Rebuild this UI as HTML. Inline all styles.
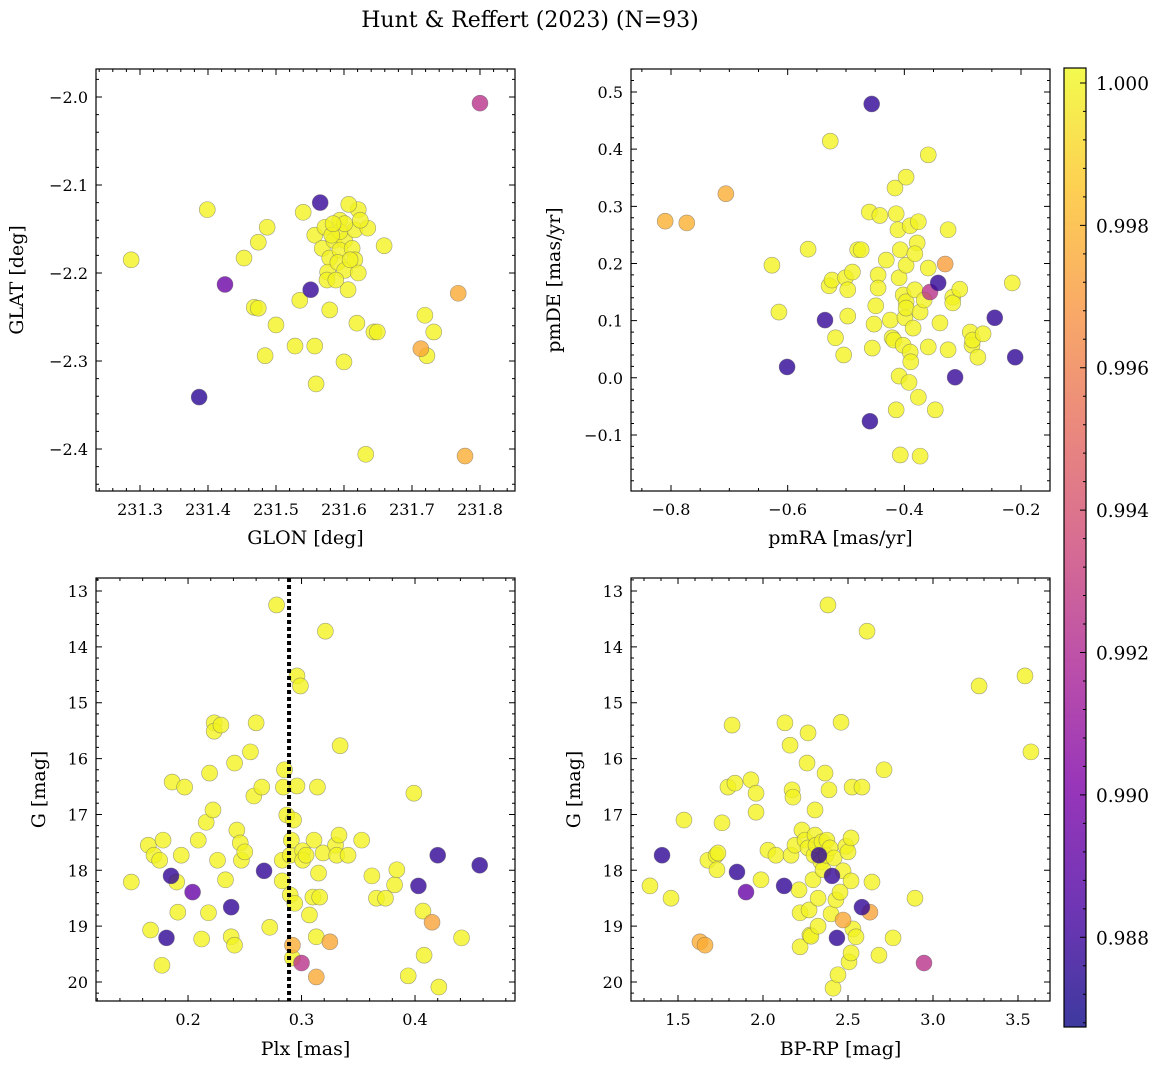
<!DOCTYPE html>
<html><head><meta charset="utf-8"><style>
html,body{margin:0;padding:0;background:#fff;}
svg text{font-family:"DejaVu Serif","Liberation Serif",serif;fill:#000;}
</style></head><body>
<svg id="fig" width="1161" height="1068" viewBox="0 0 1161 1068" xmlns="http://www.w3.org/2000/svg">
<text x="530" y="27" font-size="22" text-anchor="middle">Hunt &amp; Reffert (2023) (N=93)</text>
</svg>
<script>
// Panel 1: GLON vs GLAT
const p1x=[231.287,231.399,231.425,231.387,231.453,231.474,231.487,231.468,231.474,231.500,231.484,231.528,231.535,231.540,231.565,231.551,231.557,231.559,231.557,231.572,231.568,231.579,231.585,231.576,231.575,231.579,231.594,231.601,231.594,231.591,231.601,231.606,231.600,231.616,231.612,231.616,231.621,231.594,231.582,231.621,231.635,231.619,231.632,231.644,231.649,231.659,231.607,231.719,231.732,231.722,231.713,231.768,231.778,231.800,231.624,231.601,231.584,231.588,231.609];
const p1y=[-2.185,-2.128,-2.213,-2.341,-2.183,-2.165,-2.148,-2.239,-2.240,-2.259,-2.294,-2.283,-2.231,-2.131,-2.120,-2.219,-2.283,-2.326,-2.157,-2.148,-2.172,-2.183,-2.163,-2.199,-2.208,-2.242,-2.140,-2.163,-2.174,-2.188,-2.197,-2.219,-2.301,-2.151,-2.172,-2.185,-2.200,-2.153,-2.157,-2.128,-2.149,-2.257,-2.406,-2.267,-2.267,-2.169,-2.122,-2.248,-2.267,-2.294,-2.286,-2.223,-2.408,-2.007,-2.140,-2.144,-2.144,-2.208,-2.185];
const p1p=[1,1,0.9895,0.9875,1,1,1,1,1,1, 1,1,1,1,0.9878,0.9878,1,1,1,1, 1,1,1,1,1,1,1,1,1,1, 1,1,1,1,1,1,1,1,1,1, 1,1,1,1,1,1,1,1,1,1, 0.9975,0.9976,0.9977,0.9925,1,1,1,1,1];
// Panel 2: pmRA vs pmDE
const p2x=[-0.810,-0.773,-0.706,-0.627,-0.615,-0.601,-0.565,-0.536,-0.527,-0.529,-0.524,-0.518,-0.504,-0.501,-0.497,-0.497,-0.489,-0.480,-0.474,-0.460,-0.456,-0.459,-0.455,-0.452,-0.445,-0.445,-0.449,-0.442,-0.431,-0.424,-0.421,-0.416,-0.414,-0.414,-0.418,-0.409,-0.407,-0.411,-0.407,-0.402,-0.399,-0.409,-0.397,-0.397,-0.397,-0.397,-0.402,-0.392,-0.390,-0.390,-0.389,-0.382,-0.385,-0.376,-0.378,-0.382,-0.376,-0.373,-0.373,-0.366,-0.359,-0.359,-0.359,-0.356,-0.347,-0.342,-0.339,-0.330,-0.325,-0.325,-0.317,-0.317,-0.313,-0.305,-0.287,-0.284,-0.283,-0.274,-0.265,-0.245,-0.215,-0.210];
const p2y=[0.274,0.271,0.322,0.197,0.115,0.019,0.225,0.101,0.414,0.161,0.171,0.070,0.040,0.175,0.154,0.108,0.185,0.224,0.224,0.290,0.479,-0.076,0.052,0.094,0.180,0.157,0.126,0.284,0.206,0.101,0.070,0.332,0.287,-0.056,0.066,0.175,-0.135,0.259,0.224,0.145,0.105,0.003,0.351,0.197,0.133,0.122,0.057,-0.008,0.266,0.045,0.028,0.154,0.087,0.273,0.236,0.217,-0.034,-0.137,0.115,0.136,0.390,0.192,0.054,0.150,-0.056,0.166,0.096,0.199,0.259,0.049,0.141,0.131,0.001,0.155,0.080,0.057,0.066,0.036,0.077,0.105,0.166,0.036];
const p2p=[0.9978,0.9978,0.9977,1,1,0.9876,1,0.9878,1,1, 1,1,1,1,1,1,1,1,1,1, 0.9877,0.9876,1,1,1,1,1,1,1,1, 1,1,1,1,1,1,1,1,1,1, 1,1,1,1,1,1,1,1,1,1, 1,1,1,1,1,1,1,1,1,1, 1,1,1,0.9925,1,0.9877,1,0.9972,1,1, 1,1,0.9878,1,1,1,1,1,1,0.9877, 1,0.9876];
// Panel 3: Plx vs G
const p3x=[0.150,0.165,0.167,0.170,0.175,0.177,0.178,0.181,0.185,0.186,0.190,0.191,0.194,0.197,0.204,0.209,0.212,0.216,0.218,0.219,0.222,0.223,0.223,0.226,0.229,0.233,0.238,0.238,0.241,0.241,0.243,0.246,0.247,0.250,0.255,0.258,0.260,0.265,0.267,0.272,0.278,0.283,0.283,0.284,0.285,0.287,0.290,0.290,0.291,0.292,0.292,0.293,0.294,0.296,0.299,0.296,0.300,0.301,0.301,0.304,0.307,0.310,0.311,0.313,0.313,0.314,0.315,0.316,0.319,0.321,0.325,0.330,0.331,0.333,0.334,0.341,0.353,0.362,0.366,0.374,0.382,0.384,0.394,0.399,0.403,0.407,0.408,0.415,0.420,0.421,0.441,0.457];
const p3y=[18.21,17.55,19.07,17.73,17.82,19.70,17.46,19.21,18.10,16.42,18.21,18.75,17.73,16.51,18.39,17.46,19.23,17.14,18.76,16.26,16.92,15.36,15.51,17.82,15.40,18.17,18.66,19.19,19.34,16.08,17.28,17.51,17.82,17.67,15.88,16.67,15.36,16.51,18.01,19.02,13.25,17.82,18.19,16.51,16.20,17.01,18.44,17.73,17.46,19.34,19.57,17.10,18.59,14.52,14.70,16.49,19.66,17.65,17.82,17.73,18.80,18.48,17.46,19.91,19.19,16.51,18.05,18.48,17.69,13.72,19.28,17.55,17.73,17.37,15.77,17.73,17.46,18.10,18.50,18.50,18.26,17.99,19.89,16.62,18.28,18.73,19.52,18.93,17.73,20.09,19.21,17.91];
const p3p=[1,1,1,1,1,1,1,0.9876,0.9877,1, 1,1,1,1,0.9893,1,1,1,1,1, 1,1,1,1,1,1,0.9877,1,1,1, 1,1,1,1,1,1,1,1,0.9877,1, 1,1,1,1,1,1,1,1,1,0.9977, 1,1,1,1,1,1,0.9925,1,1,1, 1,1,1,0.9976,1,1,1,1,1,1, 0.9975,1,1,1,1,1,1,1,1,1, 1,1,1,1,0.9878,1,1,0.9973,0.9877,1, 1,0.9876];
const plxRef=[0.289];
// Panel 4: BP-RP vs G
const p4x=[1.335,1.459,1.406,1.535,1.629,1.659,1.676,1.724,1.729,1.735,1.759,1.794,1.818,1.835,1.847,1.900,1.929,1.959,1.959,1.988,2.029,2.076,2.124,2.129,2.159,2.165,2.171,2.176,2.188,2.212,2.218,2.218,2.229,2.247,2.259,2.265,2.265,2.271,2.276,2.282,2.294,2.300,2.306,2.306,2.312,2.324,2.324,2.329,2.341,2.347,2.353,2.365,2.371,2.376,2.382,2.388,2.394,2.400,2.406,2.412,2.418,2.429,2.435,2.441,2.453,2.459,2.471,2.471,2.488,2.500,2.506,2.518,2.518,2.518,2.524,2.529,2.547,2.582,2.582,2.612,2.629,2.641,2.682,2.712,2.765,2.894,2.947,3.271,3.541,3.576];
const p4y=[18.28,18.50,17.73,17.10,19.28,19.34,17.82,17.73,17.99,17.69,17.15,16.51,15.40,16.44,18.03,18.39,16.38,16.62,16.96,18.17,17.64,17.73,18.28,15.36,15.76,17.73,16.56,16.69,17.55,18.35,18.76,19.37,17.28,17.46,16.08,15.54,17.60,18.71,19.16,19.18,18.17,17.73,16.92,17.37,17.55,18.50,19.00,17.73,17.85,17.49,17.99,16.26,17.73,17.46,13.25,16.56,17.60,18.78,18.10,20.11,17.78,18.53,19.21,19.87,18.39,15.35,18.01,18.89,17.57,17.67,19.64,17.42,18.19,19.48,16.51,19.05,19.19,16.51,18.66,13.72,18.75,18.21,19.52,16.20,19.21,18.50,19.66,14.70,14.52,15.88];
const p4p=[1,1,0.9876,1,0.9977,0.9977,1,1,1,1, 1,1,1,1,0.9877,0.9893,1,1,1,1, 1,1,0.9877,1,1,1,1,1,1,1, 1,1,1,1,1,1,1,1,1,1, 1,1,1,1,1,1,1,0.9877,1,1, 1,1,1,1,1,1,1,1,0.9878,1, 1,1,0.9876,1,1,1,1,0.9975,1,1, 1,1,1,1,1,1,1,1,0.9877,1, 0.9973,1,1,1,1,1,0.9925,1,1,1];
// Tick labels
const p1xt=[231.3,231.4,231.5,231.6,231.7,231.8];
const p1yt=[-2.0,-2.1,-2.2,-2.3,-2.4];
const p2xt=[-0.8,-0.6,-0.4,-0.2];
const p2yt=[0.5,0.4,0.3,0.2,0.1,0.0,-0.1];
const p3xt=[0.2,0.3,0.4];
const gyt=[13,14,15,16,17,18,19,20];
const p4xt=[1.5,2.0,2.5,3.0,3.5];
const cbt=[1.000,0.998,0.996,0.994,0.992,0.990,0.988];
const cbMin=0.98674, cbMax=1.00021;

const NS="http://www.w3.org/2000/svg";
const svg=document.getElementById('fig');
function mk(tag,attrs,parent){const e=document.createElementNS(NS,tag);for(const k in attrs)e.setAttribute(k,attrs[k]);(parent||svg).appendChild(e);return e;}
const plasma=[[13,8,135],[75,3,161],[126,3,168],[170,35,149],[204,71,120],[229,107,93],[248,149,64],[253,196,39],[240,249,33]];
function cmap(v){let t=(v-cbMin)/(cbMax-cbMin);t=Math.max(0,Math.min(1,t));const f=t*8,i=Math.min(7,Math.floor(f)),r=f-i;const a=plasma[i],b=plasma[i+1];return 'rgb('+a.map((c,k)=>Math.round(c+(b[k]-c)*r)).join(',')+')';}
function fmt(v,d){return (v<0?'\u2212':'')+Math.abs(v).toFixed(d);}

function panel(cfg){
  const g=mk('g',{});
  
  
  const [x0,y0,x1,y1]=cfg.box;
  const sx=v=>x0+(v-cfg.xd[0])/(cfg.xd[1]-cfg.xd[0])*(x1-x0);
  const sy=v=>y0+(v-cfg.yd[0])/(cfg.yd[1]-cfg.yd[0])*(y1-y0);
  const xlo=Math.min(cfg.xd[0],cfg.xd[1]),xhi=Math.max(cfg.xd[0],cfg.xd[1]);
  const ylo=Math.min(cfg.yd[0],cfg.yd[1]),yhi=Math.max(cfg.yd[0],cfg.yd[1]);
  let d='';
  for(let k=Math.ceil(xlo/cfg.xm-1e-6);k*cfg.xm<=xhi+1e-9;k++){const X=sx(k*cfg.xm);d+=`M${X},${y1}v-3M${X},${y0}v3`;}
  for(let k=Math.ceil(ylo/cfg.ym-1e-6);k*cfg.ym<=yhi+1e-9;k++){const Y=sy(k*cfg.ym);d+=`M${x0},${Y}h3M${x1},${Y}h-3`;}
  for(const v of cfg.xt){const X=sx(v);d+=`M${X},${y1}v-6M${X},${y0}v6`;}
  for(const v of cfg.yt){const Y=sy(v);d+=`M${x0},${Y}h6M${x1},${Y}h-6`;}
  const tk=mk('path',{d:d,stroke:'#000','stroke-width':1,fill:'none'},g);
  
  
  for(const v of cfg.xt){const t=mk('text',{x:sx(v),y:y1+24,'font-size':16,'text-anchor':'middle'},g);t.textContent=fmt(v,cfg.xdp);
    
    }
  for(const v of cfg.yt){const t=mk('text',{x:x0-8,y:sy(v)+6,'font-size':16,'text-anchor':'end'},g);t.textContent=fmt(v,cfg.ydp);
    
    }
  const xl=mk('text',{x:(x0+x1)/2,y:cfg.xly,'font-size':19,'text-anchor':'middle'},g);xl.textContent=cfg.xl;
  
  
  const yc=(y0+y1)/2;
  const yl=mk('text',{x:cfg.ylx,y:yc,'font-size':19,'text-anchor':'middle',transform:`rotate(-90 ${cfg.ylx} ${yc})`},g);yl.textContent=cfg.yl;
  
  
  const idx=cfg.x.map((_,i)=>i).sort((a,b)=>cfg.p[b]-cfg.p[a]);
  for(const i of idx){const c=mk('circle',{cx:sx(cfg.x[i]),cy:sy(cfg.y[i]),r:8,fill:cmap(cfg.p[i]),'fill-opacity':0.8,stroke:'#666','stroke-opacity':0.6,'stroke-width':0.6},g);
    
    }
  if(cfg.vline){for(const v of cfg.vline){const X=sx(v);const l=mk('path',{d:`M${X},${y0}L${X},${y1}`,stroke:'#000','stroke-width':4,'stroke-dasharray':'4 3',fill:'none'},g);
    
    }}
  const fr=mk('rect',{x:x0,y:y0,width:x1-x0,height:y1-y0,fill:'none',stroke:'#000','stroke-width':1.2},g);
  
  
}

panel({name:'glon-glat-panel',box:[96,69,515,491],xd:[231.2353,231.8515],yd:[-1.9682,-2.4477],x:p1x,y:p1y,p:p1p,xt:p1xt,yt:p1yt,xm:0.02,ym:0.02,xdp:1,ydp:1,xl:'GLON [deg]',yl:'GLAT [deg]',xly:544,ylx:23});
panel({name:'proper-motion-panel',box:[631,69,1050,491],xd:[-0.8686,-0.1503],yd:[0.5402,-0.1980],x:p2x,y:p2y,p:p2p,xt:p2xt,yt:p2yt,xm:0.05,ym:0.02,xdp:1,ydp:1,xl:'pmRA [mas/yr]',yl:'pmDE [mas/yr]',xly:544,ylx:560});
panel({name:'parallax-cmd-panel',box:[96,578,515,1001],xd:[0.1189,0.4881],yd:[12.767,20.340],x:p3x,y:p3y,p:p3p,xt:p3xt,yt:gyt,xm:0.02,ym:0.2,xdp:1,ydp:0,xl:'Plx [mas]',yl:'G [mag]',xly:1055,ylx:45,vline:plxRef});
panel({name:'color-magnitude-panel',box:[631,578,1050,1001],xd:[1.2235,3.6882],yd:[12.767,20.340],x:p4x,y:p4y,p:p4p,xt:p4xt,yt:gyt,xm:0.1,ym:0.2,xdp:1,ydp:0,xl:'BP-RP [mag]',yl:'G [mag]',xly:1055,ylx:580});

// Colorbar
const cb=mk('g',{});


const defs=mk('defs',{},cb);
const lg=mk('linearGradient',{id:'cbg',x1:0,y1:1,x2:0,y2:0},defs);
plasma.forEach((c,i)=>mk('stop',{offset:(i/8),'stop-color':`rgb(${c.join(',')})`,'stop-opacity':0.8},lg));
const cbx0=1064,cbx1=1086,cby0=68,cby1=1027;
const cr=mk('rect',{x:cbx0,y:cby0,width:cbx1-cbx0,height:cby1-cby0,fill:'url(#cbg)',stroke:'#000','stroke-width':1.2},cb);


const cy=v=>cby1-(v-cbMin)/(cbMax-cbMin)*(cby1-cby0);
let cd='';
for(let k=Math.ceil(cbMin/0.0004);k*0.0004<=cbMax;k++){cd+=`M${cbx1},${cy(k*0.0004)}h-3`;}
for(const v of cbt){cd+=`M${cbx1},${cy(v)}h-6`;const t=mk('text',{x:1096,y:cy(v)+7,'font-size':18.5},cb);t.textContent=v.toFixed(3);
  
  }
mk('path',{d:cd,stroke:'#000','stroke-width':1},cb);
</script>
</body></html>
